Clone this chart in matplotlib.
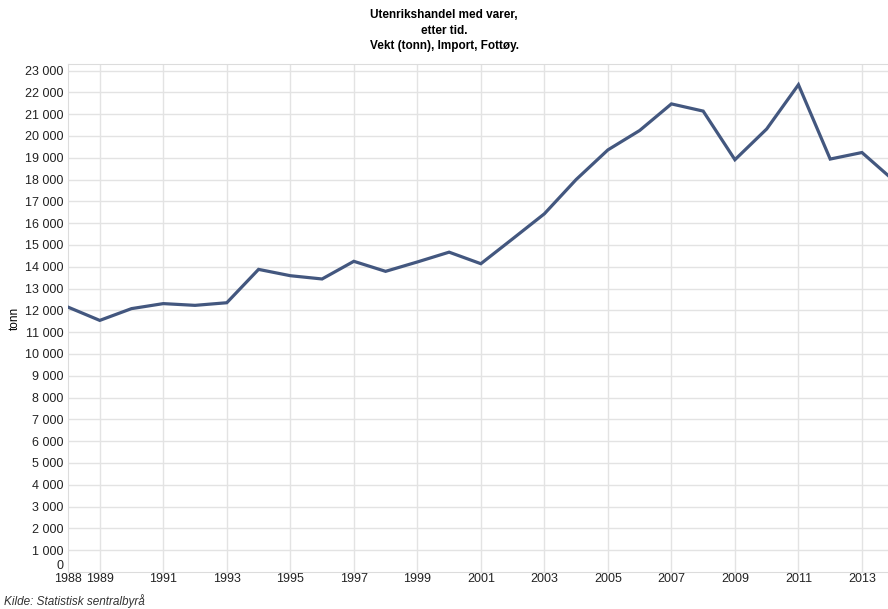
import matplotlib.pyplot as plt
from matplotlib.ticker import FuncFormatter

years = list(range(1988, 2015))
tonn = [12150, 11540, 12080, 12310, 12230, 12350, 13880, 13590, 13440,
        14250, 13790, 14220, 14670, 14140, 15280, 16430, 18000, 19360,
        20250, 21470, 21140, 18910, 20320, 22350, 18940, 19240, 17960]

xtick_years = [1988, 1989] + list(range(1991, 2014, 2))
grid_years = list(range(1989, 2014, 2))

plt.rcParams['font.family'] = ['Liberation Sans', 'DejaVu Sans']

fig = plt.figure(figsize=(8.88, 6.09), dpi=100)
ax = fig.add_axes([68 / 888, 1 - 572 / 609, 1 - 68 / 888, (572 - 64) / 609])

ax.plot(years, tonn, color='#43577f', linewidth=2.3, solid_joinstyle='miter', zorder=3)

ax.set_xlim(1988, 2013.82)
ax.set_ylim(0, 23300)
ax.set_yticks(range(0, 23001, 1000))
ax.yaxis.set_major_formatter(FuncFormatter(lambda v, p: f'{int(v):,}'.replace(',', ' ')))
ax.set_xticks(xtick_years)
ax.set_xticklabels([str(y) for y in xtick_years])

for y in range(1000, 23001, 1000):
    ax.axhline(y, color='#e3e3e3', linewidth=1, zorder=1)
for yr in grid_years:
    ax.axvline(yr, color='#e3e3e3', linewidth=1, zorder=1)

for s in ax.spines.values():
    s.set_color('#dcdcdc')
ax.spines['right'].set_visible(False)
ax.tick_params(length=0, labelsize=9, colors='#222222')
ax.tick_params(axis='y', pad=3)
ax.tick_params(axis='x', pad=1)
# the zero label sits a little above its gridline, as in the original
ax.yaxis.get_major_ticks()[0].label1.set_va('bottom')

ax.set_ylabel('tonn', fontsize=8.5, labelpad=3)

fig.text(0.5, 1 - 9 / 609, 'Utenrikshandel med varer,\netter tid.\nVekt (tonn), Import, Fottøy.',
         ha='center', va='top', fontsize=8.5, fontweight='bold', linespacing=1.4)
fig.text(4 / 888, 1 - 601 / 609, 'Kilde: Statistisk sentralbyrå', ha='left', va='center',
         fontsize=8.5, style='italic', color='#333333')

fig.savefig('out.png', dpi=100)
